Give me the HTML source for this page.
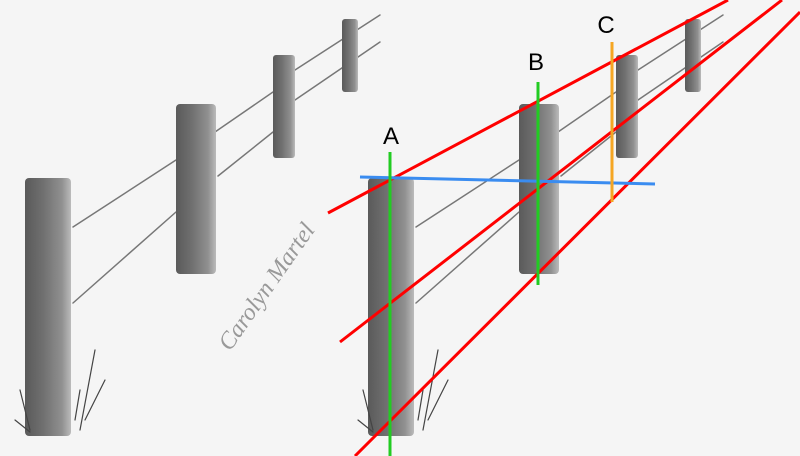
<!DOCTYPE html><html><head><style>body{margin:0;background:#f5f5f5}svg{display:block}</style></head><body>
<svg width="800" height="456" xmlns="http://www.w3.org/2000/svg">
<defs><linearGradient id="p" x1="0" x2="1"><stop offset="0" stop-color="#5a5a5a"/><stop offset=".4" stop-color="#707070"/><stop offset=".8" stop-color="#909090"/><stop offset="1" stop-color="#bbb"/></linearGradient></defs>
<rect width="800" height="456" fill="#f5f5f5"/>
<g id="f" stroke-linecap="round">
<g stroke="#777" stroke-width="1.5" fill="none">
<path d="M73 227 L176 160 M215 132 L273 92 M295 70 L380 15"/>
<path d="M73 303 L176 212 M218 176 L273 132 M295 100 L380 42"/>
</g>
<rect x="25" y="178" width="46" height="258" rx="4" fill="url(#p)"/>
<rect x="176" y="104" width="40" height="170" rx="4" fill="url(#p)"/>
<rect x="273" y="55" width="22" height="103" rx="3" fill="url(#p)"/>
<rect x="342" y="19" width="16" height="73" rx="3" fill="url(#p)"/>
<g stroke="#444" stroke-width="1.2" fill="none"><path d="M15 420 L30 432 M20 390 L30 430 M75 420 L80 390 M80 430 L95 350 M85 420 L105 380"/></g>
</g>
<use href="#f" x="343"/>
<text x="0" y="0" transform="translate(230,352) rotate(-55)" font-family="Liberation Serif, serif" font-style="italic" font-size="24" fill="#999">Carolyn Martel</text>
<g stroke-width="3" fill="none">
<path d="M328 213 L728 0 M340 342 L782 0 M355 456 L800 12" stroke="#f00"/>
<path d="M360 177 L655 184" stroke="#3a8cf0"/>
<path d="M390 152 V456 M538 82 V285" stroke="#2c2"/>
<path d="M612 42 V202" stroke="#f5a623"/>
</g>
<g font-family="Liberation Sans, sans-serif" font-size="24" fill="#000" text-anchor="middle">
<text x="391" y="144">A</text><text x="536" y="70">B</text><text x="606" y="33">C</text></g>
</svg></body></html>
